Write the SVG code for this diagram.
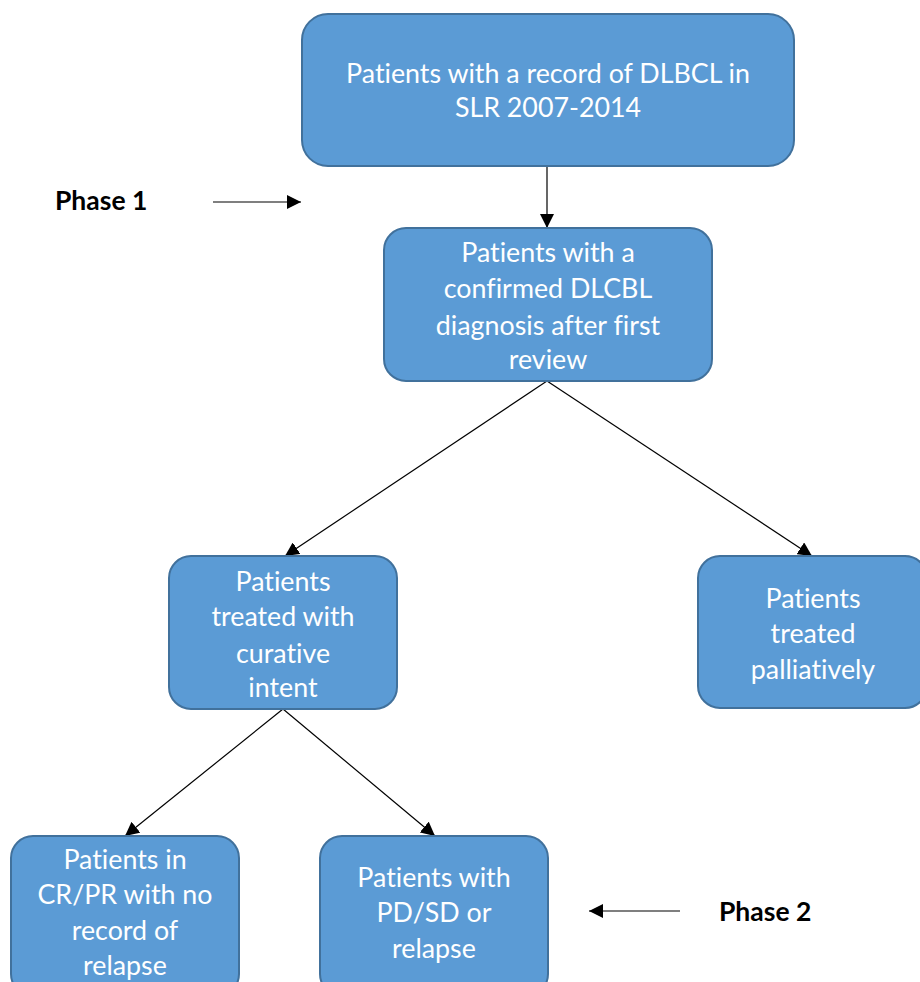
<svg xmlns="http://www.w3.org/2000/svg" width="920" height="982" viewBox="0 0 920 982">
  <defs>
    <style>
      .box { fill: #5B9BD5; stroke: #41719C; stroke-width: 2; }
      .lbl { font-family: Lato, "Liberation Sans", sans-serif; font-size: 26.8px; fill: #FFFFFF; text-anchor: middle; font-variant-ligatures: none; }
      .phase { font-family: Lato, "Liberation Sans", sans-serif; font-size: 26.5px; font-weight: bold; fill: #000000; }
      .conn { stroke: #000000; stroke-width: 1.2; fill: none; marker-end: url(#arrow); }
    </style>
    <marker id="arrow" viewBox="0 0 10 10" refX="10" refY="5" markerWidth="14" markerHeight="14" markerUnits="userSpaceOnUse" orient="auto">
      <path d="M0,0 L10,5 L0,10 z" fill="#000000"/>
    </marker>
  </defs>

  <rect width="920" height="982" fill="#FFFFFF"/>

  <!-- connectors -->
  <g id="connectors">
    <line class="conn" x1="547" y1="166" x2="547" y2="228"/>
    <line class="conn" x1="547" y1="381" x2="285" y2="556"/>
    <line class="conn" x1="547" y1="381" x2="812" y2="556"/>
    <line class="conn" x1="283" y1="709" x2="125" y2="836"/>
    <line class="conn" x1="283" y1="709" x2="435" y2="836"/>
    <line class="conn" x1="213" y1="202" x2="301" y2="202"/>
    <line class="conn" x1="680" y1="911" x2="589" y2="911"/>
  </g>

  <g id="node-dlbcl-record">
    <rect class="box" x="302" y="14" width="492" height="152" rx="26"/>
    <text class="lbl" x="548" y="83">Patients with a record of DLBCL in</text>
    <text class="lbl" x="548" y="117">SLR 2007-2014</text>
  </g>

  <g id="node-confirmed">
    <rect class="box" x="384" y="228" width="328" height="153" rx="22"/>
    <text class="lbl" x="548" y="262">Patients with a</text>
    <text class="lbl" x="548" y="298">confirmed DLCBL</text>
    <text class="lbl" x="548" y="335">diagnosis after first</text>
    <text class="lbl" x="548" y="369">review</text>
  </g>

  <g id="node-curative">
    <rect class="box" x="169" y="556" width="228" height="153" rx="22"/>
    <text class="lbl" x="283" y="591">Patients</text>
    <text class="lbl" x="283" y="626">treated with</text>
    <text class="lbl" x="283" y="663">curative</text>
    <text class="lbl" x="283" y="697">intent</text>
  </g>

  <g id="node-palliative">
    <rect class="box" x="698" y="556" width="229" height="152" rx="22"/>
    <text class="lbl" x="813" y="608">Patients</text>
    <text class="lbl" x="813" y="643">treated</text>
    <text class="lbl" x="813" y="679">palliatively</text>
  </g>

  <g id="node-crpr">
    <rect class="box" x="11" y="836" width="228" height="160" rx="22"/>
    <text class="lbl" x="125" y="869">Patients in</text>
    <text class="lbl" x="125" y="904">CR/PR with no</text>
    <text class="lbl" x="125" y="940">record of</text>
    <text class="lbl" x="125" y="975">relapse</text>
  </g>

  <g id="node-pdsd">
    <rect class="box" x="320" y="836" width="228" height="160" rx="22"/>
    <text class="lbl" x="434" y="887">Patients with</text>
    <text class="lbl" x="434" y="922">PD/SD or</text>
    <text class="lbl" x="434" y="958">relapse</text>
  </g>

  <g id="label-phase1">
    <text class="phase" x="55" y="210">Phase 1</text>
  </g>
  <g id="label-phase2">
    <text class="phase" x="719" y="921">Phase 2</text>
  </g>
</svg>
